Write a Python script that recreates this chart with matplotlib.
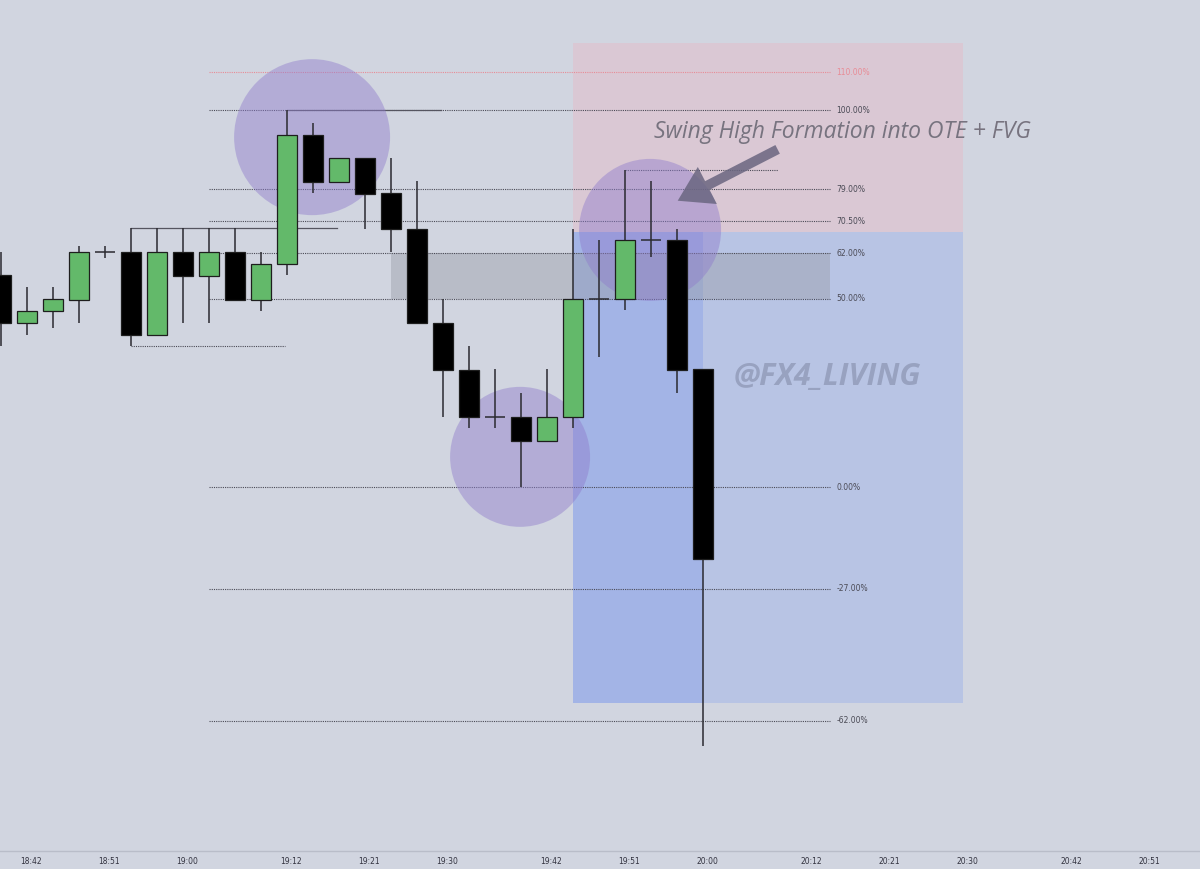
import matplotlib
matplotlib.use("Agg")
import matplotlib.pyplot as plt
from matplotlib.patches import Rectangle, Ellipse

# --- 3-minute candles (levels in % of the 19:39 low -> 19:12 high swing) ---
times = ["18:39", "18:42", "18:45", "18:48", "18:51", "18:54", "18:57",
         "19:00", "19:03", "19:06", "19:09", "19:12", "19:15", "19:18",
         "19:21", "19:24", "19:27", "19:30", "19:33", "19:36", "19:39",
         "19:42", "19:45", "19:48", "19:51", "19:54", "19:57", "20:00"]
opens = [56.2, 43.5, 46.7, 49.6, 62.3, 62.3, 40.3,
         62.3, 56.0, 62.3, 49.6, 59.2, 93.4, 80.9,
         87.3, 78.0, 68.4, 43.5, 31.0, 18.6, 18.6,
         12.2, 18.6, 49.9, 49.9, 65.5, 65.5, 31.3]
highs = [62.3, 53.0, 53.0, 63.9, 63.9, 68.7, 68.7,
         68.7, 68.7, 68.7, 62.3, 100.0, 96.6, 87.3,
         87.3, 87.3, 81.2, 49.9, 37.4, 31.3, 24.9,
         31.3, 68.4, 65.5, 84.1, 81.2, 68.4, 31.3]
lows = [37.4, 40.3, 42.2, 43.5, 60.7, 37.4, 40.3,
        43.5, 43.5, 49.6, 46.7, 56.2, 78.0, 80.9,
        68.4, 62.3, 43.5, 18.6, 15.6, 15.6, 0.0,
        12.2, 15.6, 34.5, 46.9, 61.0, 24.9, -68.7]
closes = [43.5, 46.7, 49.9, 62.3, 62.3, 40.3, 62.3,
          56.0, 62.3, 49.6, 59.2, 93.4, 80.9, 87.3,
          77.7, 68.4, 43.5, 31.0, 18.6, 18.6, 12.2,
          18.6, 49.9, 49.9, 65.5, 65.5, 31.0, -19.1]

# --- fib levels ---
fib_levels = [110.0, 100.0, 79.0, 70.5, 62.0, 50.0, 0.0, -27.0, -62.0]
fib_labels = ["110.00%", "100.00%", "79.00%", "70.50%", "62.00%", "50.00%",
              "0.00%", "-27.00%", "-62.00%"]

tick_labels = ["18:42", "18:51", "19:00", "19:12", "19:21", "19:30", "19:42",
               "19:51", "20:00", "20:12", "20:21", "20:30", "20:42", "20:51"]


def mins(t):
    h, m = t.split(":")
    return (int(h) - 18) * 60 + int(m)


x = [mins(t) for t in times]

BG = "#d1d5e0"
fig = plt.figure(figsize=(12, 8.69), dpi=100, facecolor=BG)
ax = fig.add_axes([0, 18 / 869, 1, 851 / 869], facecolor=BG)
ax.set_xlim(38.89, 177.35)
ax.set_ylim(-96.55, 129.18)

# --- position tool zones (short setup) ---
ax.add_patch(Rectangle((mins("19:45"), 67.6), 150 - mins("19:45"), 117.8 - 67.6,
                       facecolor="#dac8d4", edgecolor="none", zorder=0))
ax.add_patch(Rectangle((mins("19:45"), -57.3), 150 - mins("19:45"), 67.6 + 57.3,
                       facecolor="#b8c4e4", edgecolor="none", zorder=0))
ax.add_patch(Rectangle((mins("19:45"), -57.3), mins("20:00") - mins("19:45"), 67.6 + 57.3,
                       facecolor="#a3b4e6", edgecolor="none", zorder=0.1))

# --- FVG box ---
ax.add_patch(Rectangle((mins("19:24"), 50.0), 134.65 - mins("19:24"), 12.0,
                       facecolor="#9a9eaa", alpha=0.45, edgecolor="none", zorder=0.5))

# --- fib lines ---
for lvl, lab in zip(fib_levels, fib_labels):
    col = "#e88c96" if lvl == 110.0 else "#4a4a55"
    ax.plot([mins("19:03"), 134.65], [lvl, lvl], color=col, lw=0.8,
            linestyle=(0, (1, 1)), zorder=1)
    ax.text(135.4, lvl, lab, color=col, fontsize=5.5, va="center", ha="left")

# --- horizontal rays ---
ax.plot([mins("19:12"), 89.8], [100.0, 100.0], color="#555560", lw=0.9, zorder=1)
ax.plot([mins("18:54"), 77.8], [68.7, 68.7], color="#555560", lw=0.9, zorder=1)
ax.plot([mins("18:54"), 71.8], [37.4, 37.4], color="#4a4a55", lw=0.8,
        linestyle=(0, (1, 1)), zorder=1)
ax.plot([mins("19:51"), 128.7], [84.1, 84.1], color="#4a4a55", lw=0.8,
        linestyle=(0, (1, 1)), zorder=1)

# --- highlight circles (radius in pixels converted to data units) ---
px_x = 8.667   # pixels per minute
px_y = 3.77    # pixels per %
for cx, cy, r in [(74.9, 92.8, 78), (98.9, 8.0, 70), (113.9, 68.2, 71)]:
    ax.add_patch(Ellipse((cx, cy), 2 * r / px_x, 2 * r / px_y,
                         facecolor="#8f7ccc", alpha=0.45, edgecolor="none", zorder=2))

# --- candles ---
for xi, o, h, l, c in zip(x, opens, highs, lows, closes):
    ax.vlines(xi, l, h, color="#2a2a30", lw=1.1, zorder=3)
    if o == c:
        ax.hlines(o, xi - 1.15, xi + 1.15, color="#2a2a30", lw=1.1, zorder=3)
    else:
        fc = "#63b96a" if c > o else "#000000"
        ax.bar(xi, c - o, bottom=o, width=2.3, color=fc, edgecolor="#1e1e1e",
               linewidth=0.9, zorder=4)

# --- annotations ---
ax.text(114.3, 94.2, "Swing High Formation into OTE + FVG", fontsize=16.5,
        style="italic", family=["Open Sans", "DejaVu Sans"], color="#77737f",
        va="center", ha="left", zorder=6)
ax.annotate("", xy=(116.8, 75.6), xytext=(128.9, 89.9),
            arrowprops=dict(arrowstyle="simple,head_width=1.5,head_length=1.2,tail_width=0.35",
                            mutation_scale=20, facecolor="#6a6680", edgecolor="none",
                            alpha=0.85), zorder=6)
ax.text(123.5, 29.2, "@FX4_LIVING", fontsize=22, style="italic", weight="bold",
        family=["Open Sans", "DejaVu Sans"], color="#98a2c0", va="center",
        ha="left", zorder=6)

# --- axes styling ---
ax.set_xticks([mins(t) + 0.5 for t in tick_labels])
ax.set_xticklabels(tick_labels)
ax.set_yticks([])
ax.tick_params(axis="x", length=0, pad=4, labelsize=5.5, colors="#333340")
for s in ["top", "left", "right"]:
    ax.spines[s].set_visible(False)
ax.spines["bottom"].set_color("#b9bdc9")
ax.spines["bottom"].set_linewidth(1.0)

fig.savefig("out.png", dpi=100, facecolor=BG)
